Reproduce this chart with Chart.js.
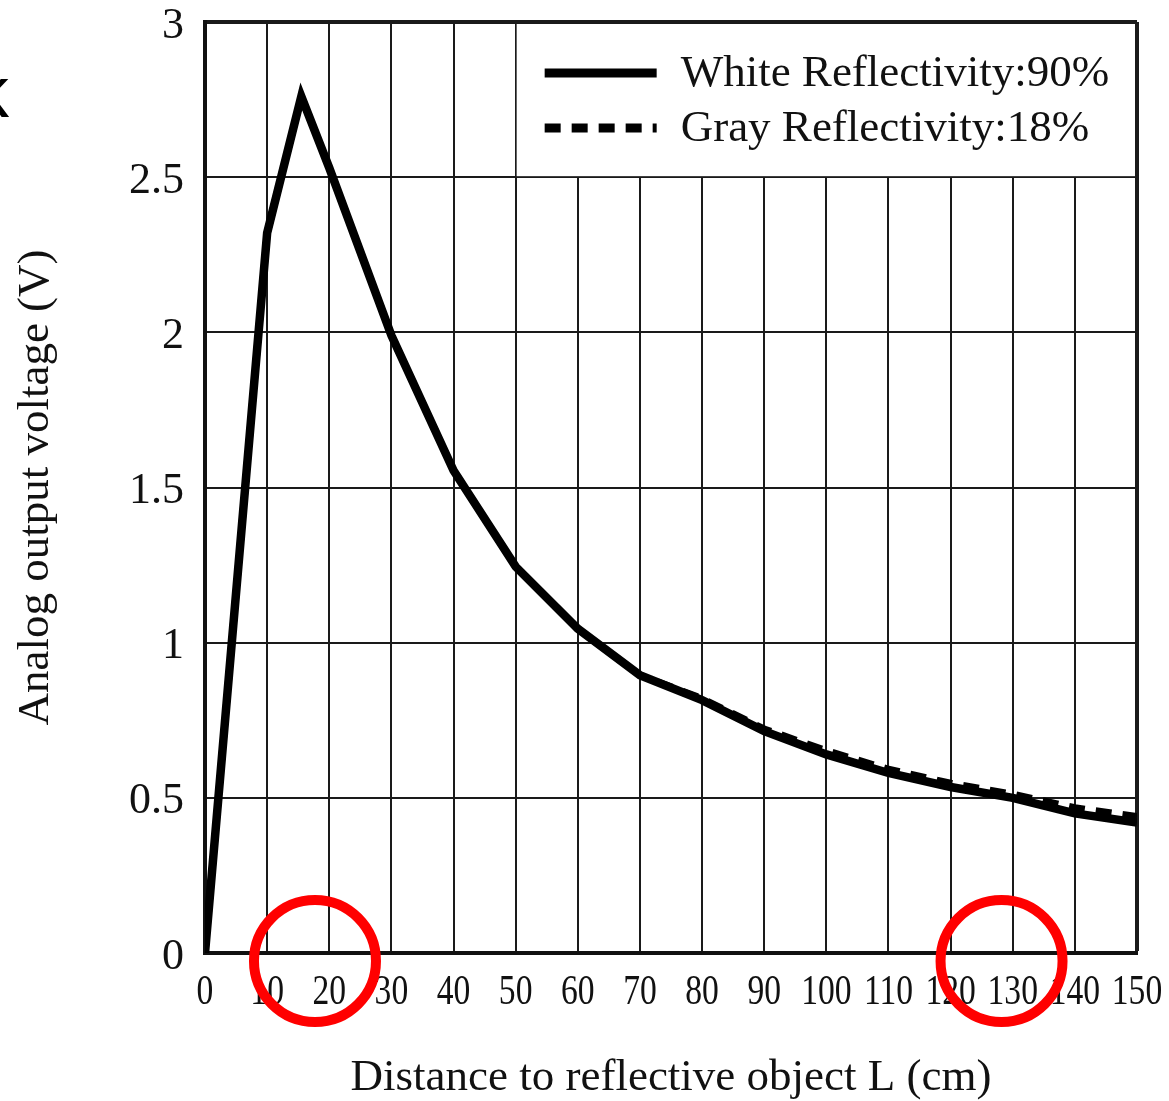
<!DOCTYPE html>
<html><head><meta charset="utf-8">
<script src="https://cdn.jsdelivr.net/npm/chart.js@4.4.0/dist/chart.umd.min.js"></script>
<style>html,body{margin:0;padding:0;background:#fff;overflow:hidden}#wrap{width:1169px;height:1101px;position:relative}canvas{display:block}</style>
</head><body><div id="wrap"><canvas id="c" width="1169" height="1101"></canvas></div>
<script>
// ---- data ----
const distances    = [0, 10, 15.5, 20, 30, 40, 50, 60, 70, 80, 90, 100, 110, 120, 130, 140, 150];
const whiteVoltage = [0, 2.32, 2.76, 2.53, 1.99, 1.555, 1.245, 1.045, 0.895, 0.815, 0.715, 0.64, 0.58, 0.535, 0.5, 0.45, 0.42];
const grayVoltage  = [0, 2.32, 2.76, 2.53, 1.99, 1.555, 1.245, 1.045, 0.895, 0.82, 0.722, 0.652, 0.592, 0.547, 0.512, 0.468, 0.44];
const seriesLabels = ['White Reflectivity:90%', 'Gray Reflectivity:18%'];
const xTickValues  = [0, 10, 20, 30, 40, 50, 60, 70, 80, 90, 100, 110, 120, 130, 140, 150];
const xTickLabels  = ['0', '10', '20', '30', '40', '50', '60', '70', '80', '90', '100', '110', '120', '130', '140', '150'];
const yTickValues  = [0, 0.5, 1, 1.5, 2, 2.5, 3];
const yTickLabels  = ['0', '0.5', '1', '1.5', '2', '2.5', '3'];
const xTitle = 'Distance to reflective object L (cm)';
const yTitle = 'Analog output voltage (V)';
const circleMarks = [17.7, 128.2]; // x positions (cm) of the red annotation circles

const SERIF = '"Liberation Serif", "Times New Roman", serif';
const INK = '#111';

const toPts = (xs, ys) => xs.map((x, i) => ({x, y: ys[i]}));
const noPad = s => { s.paddingTop = 0; s.paddingBottom = 0; s.paddingLeft = 0; s.paddingRight = 0; };

const legendPlugin = {
  id: 'boxLegend',
  afterDatasetsDraw(chart) {
    const {ctx, scales: {x, y}} = chart;
    const l = x.getPixelForValue(50) + 1, r = x.getPixelForValue(150) - 2;
    const t = y.getPixelForValue(3) + 2, b = y.getPixelForValue(2.5) - 1;
    ctx.save();
    ctx.fillStyle = '#fff';
    ctx.fillRect(l, t, r - l, b - t);
    chart.data.datasets.forEach((ds, i) => {
      const cy = t + 49 + i * 55;
      ctx.strokeStyle = ds.borderColor;
      ctx.lineWidth = 9;
      ctx.lineCap = 'butt';
      ctx.setLineDash(ds.borderDash || []);
      ctx.beginPath(); ctx.moveTo(l + 28, cy); ctx.lineTo(l + 140, cy); ctx.stroke();
      ctx.setLineDash([]);
      ctx.fillStyle = INK;
      ctx.font = '45px ' + SERIF;
      ctx.textBaseline = 'middle';
      ctx.textAlign = 'left';
      ctx.fillText(ds.label, l + 164, cy + 1);
    });
    ctx.restore();
  },
  afterDraw(chart) {
    const {ctx, scales: {x}, chartArea} = chart;
    ctx.save();
    // condensed x tick labels, placed by the x scale
    ctx.fillStyle = INK;
    ctx.font = '42px ' + SERIF;
    ctx.textAlign = 'center';
    ctx.textBaseline = 'alphabetic';
    x.ticks.forEach((t, i) => {
      ctx.save();
      ctx.translate(x.getPixelForValue(t.value), chartArea.bottom + 51);
      ctx.scale(0.8, 1);
      ctx.fillText(xTickLabels[i], 0, 0);
      ctx.restore();
    });
    ctx.strokeStyle = '#ff0000';
    ctx.lineWidth = 10;
    circleMarks.forEach(v => {
      ctx.beginPath();
      ctx.arc(x.getPixelForValue(v), chartArea.bottom + 8, 61, 0, Math.PI * 2);
      ctx.stroke();
    });
    ctx.fillStyle = '#000';
    ctx.font = '72px "Liberation Sans", Arial, sans-serif';
    ctx.textAlign = 'left';
    ctx.fillText('k', -27, 117);
    ctx.restore();
  }
};

new Chart(document.getElementById('c'), {
  type: 'line',
  data: {
    datasets: [
      { label: seriesLabels[0], data: toPts(distances, whiteVoltage), borderColor: '#000', borderWidth: 8.5,
        pointRadius: 0, tension: 0, fill: false, borderJoinStyle: 'miter' },
      { label: seriesLabels[1], data: toPts(distances, grayVoltage), borderColor: '#000', borderWidth: 7,
        borderDash: [16, 11], pointRadius: 0, tension: 0, fill: false }
    ]
  },
  options: {
    responsive: false,
    animation: false,
    devicePixelRatio: 1,
    layout: { padding: { left: 0, top: 22, right: 32, bottom: 0 } },
    plugins: { legend: { display: false }, tooltip: { enabled: false } },
    scales: {
      x: {
        type: 'linear', min: 0, max: 150,
        afterBuildTicks: s => { s.ticks = xTickValues.map(v => ({value: v})); },
        afterFit: s => { s.height = 148; noPad(s); },
        grid: { color: '#1a1a1a', lineWidth: c => (c.tick && c.tick.value === 150 ? 4 : 2), drawTicks: false },
        border: { color: INK, width: 4 },
        ticks: { display: false },
        title: { display: true, text: xTitle, color: INK, font: { family: SERIF, size: 45, lineHeight: 1.0 },
                 padding: { top: 0, bottom: 0 } }
      },
      y: {
        type: 'linear', min: 0, max: 3,
        afterBuildTicks: s => { s.ticks = yTickValues.map(v => ({value: v})); },
        afterFit: s => { s.width = 205; noPad(s); },
        grid: { color: '#1a1a1a', lineWidth: c => (c.tick && c.tick.value === 3 ? 4 : 2), drawTicks: false },
        border: { color: INK, width: 4 },
        ticks: { color: INK, font: { family: SERIF, size: 44, lineHeight: 0.9 }, padding: 21, labelOffset: 4,
                 callback: (v, i) => yTickLabels[i] },
        title: { display: true, text: yTitle, color: INK, font: { family: SERIF, size: 45, lineHeight: 1.2 },
                 padding: { top: 9, bottom: 0 } }
      }
    }
  },
  plugins: [legendPlugin]
});
</script></body></html>
